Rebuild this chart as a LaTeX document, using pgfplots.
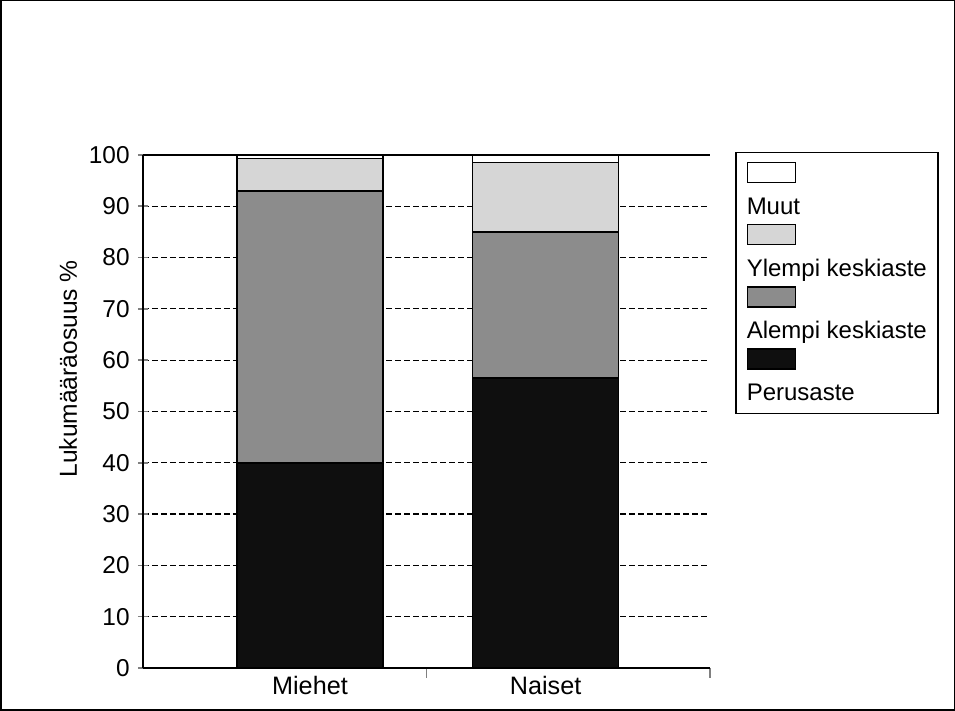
\documentclass[border=0pt]{standalone}
\usepackage{pgfplots}
\pgfplotsset{compat=1.18}
\usepackage{fontspec}
\setmainfont{Liberation Sans}
\definecolor{cMuut}{gray}{1.0}
\definecolor{cYlempi}{gray}{0.84}
\definecolor{cAlempi}{gray}{0.55}
\definecolor{cPerus}{gray}{0.06}
\begin{document}
\fontsize{12}{14}\selectfont
\begin{tikzpicture}
\useasboundingbox (0,0) rectangle (477.5pt,355.5pt);
\draw[line width=0.75pt] (0.375pt,0.375pt) rectangle (477.125pt,355.125pt);
\begin{axis}[
  at={(71.5pt,21.5pt)}, anchor=south west,
  scale only axis, width=283.5pt, height=256.5pt,
  xmin=0, xmax=2, ymin=0, ymax=100,
  ybar stacked, bar width=0.515,
  axis x line*=bottom, axis y line*=left,
  axis line style={line width=1pt, -},
  xtick={0.589,1.42}, xticklabels={Miehet,Naiset},
  major x tick style={draw=none},
  minor xtick={1,2},
  every minor x tick/.append style={yshift=-2.5pt, line width=0.8pt},
  minor tick length=5pt,
  ytick={0,10,...,100},
  tick align=center, major tick length=5pt,
  every major y tick/.append style={line width=0.8pt},
  ymajorgrids,
  major grid style={black, line width=0.6pt, dash pattern=on 3pt off 1.5pt},
  /pgf/number format/assume math mode=true,
  yticklabel style={font=\fontsize{12.2}{14}\selectfont},
  xticklabel style={font=\fontsize{12.6}{14}\selectfont, yshift=2.5pt},
  ylabel={Lukumääräosuus \%},
  ylabel style={at={(axis description cs:-0.132,0.583)}, anchor=center, font=\fontsize{12.3}{14}\selectfont},
  legend style={at={(1.044,1.0064)}, anchor=north west, draw=black, line width=0.8pt,
    font=\fontsize{12}{14}\selectfont, cells={align=left, inner ysep=0pt}, legend cell align=left,
    inner xsep=3.5pt, inner ysep=2.5pt, row sep=-1pt},
]
\addplot[fill=cPerus, draw=black, line width=0.8pt, forget plot] coordinates {(0.589,40) (1.42,56.5)};
\addplot[fill=cAlempi, draw=black, line width=0.8pt, forget plot] coordinates {(0.589,53) (1.42,28.5)};
\addplot[fill=cYlempi, draw=black, line width=0.8pt, forget plot] coordinates {(0.589,6.3) (1.42,13.5)};
\addplot[fill=cMuut, draw=black, line width=0.8pt, forget plot] coordinates {(0.589,0.7) (1.42,1.5)};
\draw[line width=1pt] (axis cs:0,100) -- (axis cs:2,100);
\addlegendimage{empty legend}
\addlegendentry{\tikz\draw[fill=cMuut,line width=0.8pt] (0,0) rectangle (24pt,10pt);\\[1.5pt]Muut\vphantom{p}}
\addlegendimage{empty legend}
\addlegendentry{\tikz\draw[fill=cYlempi,line width=0.8pt] (0,0) rectangle (24pt,10pt);\\[1.5pt]Ylempi keskiaste\vphantom{p}}
\addlegendimage{empty legend}
\addlegendentry{\tikz\draw[fill=cAlempi,line width=0.8pt] (0,0) rectangle (24pt,10pt);\\[1.5pt]Alempi keskiaste\vphantom{p}}
\addlegendimage{empty legend}
\addlegendentry{\tikz\draw[fill=cPerus,line width=0.8pt] (0,0) rectangle (24pt,10pt);\\[1.5pt]Perusaste\vphantom{p}}
\end{axis}
\end{tikzpicture}
\end{document}
